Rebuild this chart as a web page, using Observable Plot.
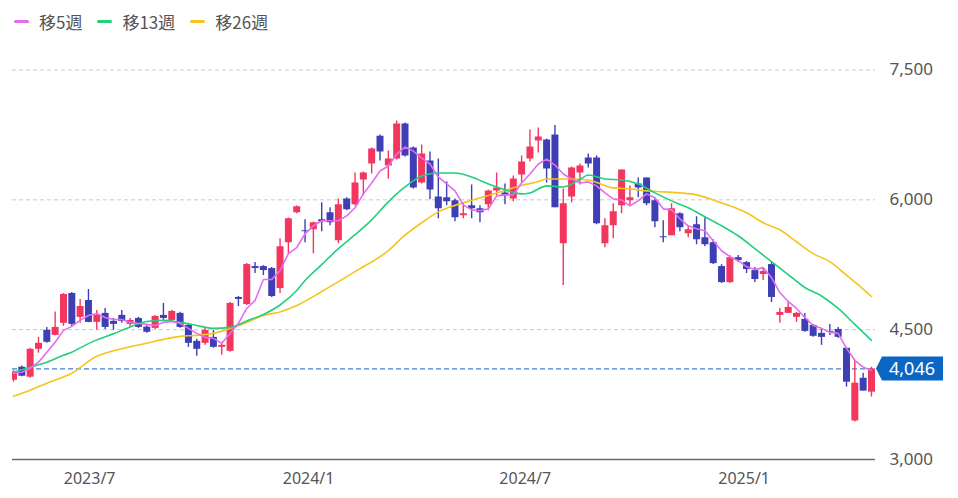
<!DOCTYPE html>
<html><head><meta charset="utf-8">
<script src="https://cdn.jsdelivr.net/npm/d3@7"></script>
<script src="https://cdn.jsdelivr.net/npm/@observablehq/plot@0.6"></script>
<style>
html,body{margin:0;padding:0;background:#fff;}
#legend{height:40px;display:flex;align-items:center;padding-left:14px;font-family:"Noto Sans CJK JP","Noto Sans",sans-serif;font-size:17px;color:#555;box-sizing:border-box;padding-top:2px;}
.item{display:flex;align-items:center;margin-right:15px;}
.sw{width:15px;height:3px;border-radius:2px;margin-right:10px;}
</style></head><body>
<div id="legend"></div>
<div id="chart"></div>
<script>
// ---- data ----
const startDate = "2023-04-28"; // first weekly candle
const open  = [3916,4066,3951,4273,4492,4434,4573,4918,4642,4837,4584,4688,4596,4665,4561,4630,4530,4515,4665,4607,
               4688,4549,4365,4342,4411,4296,4250,4872,4791,5229,5229,5206,4975,5505,5850,5643,5655,5770,5850,5528,
               6011,5942,6230,6414,6736,6391,6472,6875,6598,6195,6449,6034,6023,5988,5816,5931,5896,5942,6103,6080,
               6011,6288,6472,6679,6690,6748,5493,6034,6311,6483,6483,5493,5700,5931,5988,6184,6253,5988,5574,5585,
               5839,5608,5712,5562,5505,5229,5044,5332,5275,5183,5137,5252,4665,4688,4642,4619,4549,4457,4480,4503,
               4285,3445,3939,3778];
const high  = [4025,4081,4285,4411,4526,4703,4918,4929,4849,4964,4722,4745,4630,4722,4630,4642,4545,4665,4803,4722,
               4700,4573,4388,4515,4492,4354,4814,4883,5263,5275,5240,5217,5551,5790,5930,5770,5740,5965,5908,6011,
               6023,6311,6322,6599,6748,6564,6910,6887,6610,6633,6552,6472,6207,6011,5965,6172,5931,6110,6311,6184,
               6276,6507,6806,6829,6702,6860,6126,6380,6414,6530,6507,5781,5954,6345,6161,6253,6253,6011,5758,5954,
               5850,5700,5804,5793,5540,5252,5356,5356,5286,5217,5217,5275,4745,4814,4700,4688,4561,4515,4561,4526,
               4285,4147,3997,4066];
const low   = [3895,3955,3940,4227,4342,4430,4538,4538,4573,4580,4492,4503,4492,4573,4526,4515,4460,4503,4607,4596,
               4515,4296,4193,4319,4285,4204,4239,4768,4780,5148,5125,4872,4918,5378,5840,5505,5378,5631,5700,5494,
               5873,5930,6046,6299,6449,6242,6460,6495,6126,6184,6000,5781,5931,5747,5781,5781,5735,5873,6046,5942,
               5977,6195,6437,6541,6195,5908,5010,5965,6172,6368,5712,5447,5551,5839,5931,6023,5931,5678,5505,5585,
               5631,5562,5482,5459,5252,5033,5033,5275,5148,5044,5067,4814,4573,4688,4584,4469,4411,4319,4434,4400,
               3836,3433,3790,3721];
const close = [4009,3962,4273,4342,4354,4526,4906,4561,4768,4584,4665,4526,4561,4596,4607,4526,4470,4653,4630,4711,
               4526,4342,4273,4492,4296,4319,4803,4849,5252,5206,5183,4883,5459,5781,5919,5631,5735,5747,5735,5942,
               5885,6195,6311,6587,6552,6472,6875,6507,6138,6529,6115,5896,5977,5793,5839,5896,5850,6103,6138,6046,
               6241,6437,6610,6725,6357,5908,5954,6368,6391,6414,5724,5700,5862,6345,6023,6138,5954,5747,5562,5896,
               5678,5655,5539,5482,5263,5044,5332,5298,5194,5079,5171,4872,4699,4757,4688,4480,4423,4411,4469,4411,
               3893,3882,3790,4046];
// moving averages
const ma5 = [3997,4008,4054,4124,4239,4354,4492,4538,4607,4664,4687,4641,4618,4618,4584,4572,4561,4549,4584,4595,
             4572,4515,4457,4411,4400,4342,4457,4572,4745,4837,5079,5079,5182,5378,5447,5608,5700,5758,5758,5758,
             5815,5908,6069,6195,6333,6391,6529,6610,6564,6483,6414,6264,6184,6103,5942,5884,5873,5896,6046,6057,
             6057,6195,6299,6414,6471,6402,6299,6241,6195,6207,6161,6080,6011,5999,5930,5988,6069,6023,5896,5884,
             5781,5700,5666,5643,5528,5412,5343,5297,5228,5194,5217,5102,4929,4826,4745,4641,4549,4515,4469,4457,
             4285,4146,4066,4031];
const ma13Week = [1,3,5,7,8,9,11,13,15,17,19,21,23,25,27,29,31,33,35,36,38,40,42,44,46,48,50,52,54,56,58,60,62,63,65,67,69,70,72,74,76,78,80,82,84,86,88,90,92,94,96,98,100,102,104];
const ma13 = [4008,4066,4123,4204,4239,4290,4382,4452,4532,4595,4607,4584,4549,4515,4526,4601,4676,4785,4952,5067,5251,5436,5597,5769,5977,6149,6276,6310,6310,6264,6184,6115,6069,6080,6161,6149,6236,6287,6241,6230,6184,6080,5988,5908,5804,5700,5585,5436,5286,5136,4987,4889,4745,4561,4377];
const ma26Week = [1,3,5,8,11,13,15,17,19,21,23,25,27,29,31,33,35,38,42,46,48,50,52,54,56,58,60,62,64,65,68,70,71,73,75,77,79,81,83,85,87,89,91,93,95,97,99,101,103,104];
const ma26 = [3732,3801,3882,3997,4192,4256,4302,4342,4388,4423,4434,4457,4515,4584,4664,4705,4779,4941,5171,5413,5591,5735,5861,5936,5994,6051,6109,6166,6212,6241,6241,6230,6201,6138,6126,6103,6092,6080,6057,5999,5931,5850,5735,5654,5516,5378,5286,5130,4969,4883];
const seriesNames = ["移5週","移13週","移26週"];
const tickLabels = ["2023/7","2024/1","2024/7","2025/1"];
const yTicks = [3000,4500,6000,7500];

// ---- styles ----
const RED = "#f3365d", BLUE = "#3e3fb4";
const lineColors = ["#e36cf0","#22cf7b","#f6c41c"];

// ---- legend ----
const legend = d3.select("#legend");
seriesNames.forEach((n,i)=>{
  const it = legend.append("div").attr("class","item");
  it.append("div").attr("class","sw").style("background", lineColors[i]);
  it.append("span").text(n);
});

// ---- build tables ----
const t0 = new Date(startDate + "T00:00:00Z");
const dates = close.map((_, i) => d3.utcDay.offset(t0, 7 * i));
const candles = close.map((c, i) => ({date: dates[i], open: open[i], high: high[i], low: low[i], close: c, up: c >= open[i]}));
const ma5Data = ma5.map((v, i) => ({date: dates[i], v}));
const ma13Data = ma13Week.map((w, k) => ({date: dates[w - 1], v: ma13[k]}));
const ma26Data = ma26Week.map((w, k) => ({date: dates[w - 1], v: ma26[k]}));
const tickDates = tickLabels.map(s => { const [y, m] = s.split("/").map(Number); return new Date(Date.UTC(y, m - 1, 1)); });
const last = close[close.length - 1];

const W = 958, H = 458;
const xDomain = [d3.utcHour.offset(dates[0], -20), d3.utcHour.offset(dates[dates.length - 1], 81)];
const font = "'Noto Sans','Noto Sans CJK JP',sans-serif";

const plot = Plot.plot({
  width: W, height: H,
  marginLeft: 12, marginRight: 83, marginTop: 29.5, marginBottom: 39,
  x: {type: "utc", domain: xDomain, label: null},
  y: {domain: [3000, 7500], label: null},
  style: {fontFamily: font, fontSize: "17px", color: "#555", background: "#fff"},
  marks: [
    Plot.gridY([4500, 6000, 7500], {stroke: "#c9c9c9", strokeOpacity: 1, strokeDasharray: "4,3"}),
    Plot.ruleY([last], {stroke: "#3f7fcc", strokeWidth: 1.2, strokeDasharray: "5,3"}),
    Plot.ruleY([3000], {stroke: "#6b6b6b", strokeWidth: 1.6}),
    Plot.ruleX(candles, {x: "date", y1: "low", y2: "high", stroke: d => d.up ? RED : BLUE, strokeWidth: 1.4, clip: true}),
    Plot.ruleX(candles, {x: "date", y1: "open", y2: "close", stroke: d => d.up ? RED : BLUE, strokeWidth: 7, clip: true}),
    Plot.line(ma26Data, {x: "date", y: "v", stroke: lineColors[2], strokeWidth: 1.6, curve: "monotone-x", clip: true}),
    Plot.line(ma13Data, {x: "date", y: "v", stroke: lineColors[1], strokeWidth: 1.6, curve: "monotone-x", clip: true}),
    Plot.line(ma5Data, {x: "date", y: "v", stroke: lineColors[0], strokeWidth: 1.6, clip: true}),
    Plot.axisY(yTicks, {anchor: "right", tickSize: 0, tickPadding: 14, tickFormat: d3.format(","), fontSize: 17, fill: "#555", label: null}),
    Plot.axisX(tickDates, {anchor: "bottom", tickSize: 0, tickPadding: 13, tickFormat: d3.utcFormat("%Y/%-m"), fontSize: 16, fill: "#555", label: null})
  ]
});
document.getElementById("chart").appendChild(plot);

// current price tag
const svg = d3.select(plot);
const yy = plot.scale("y").apply(last);
const xr = plot.scale("x").range[1];
const g = svg.append("g");
g.append("path")
  .attr("d", `M${xr + 1},${yy} L${xr + 7},${yy - 12} H${xr + 68} V${yy + 12} H${xr + 7} Z`)
  .attr("fill", "#0b65c3");
g.append("text")
  .attr("x", xr + 37).attr("y", yy).attr("dy", "0.36em")
  .attr("text-anchor", "middle").attr("fill", "#fff")
  .style("font-family", font).style("font-size", "18px")
  .text(d3.format(",")(last));
</script>
</body></html>
